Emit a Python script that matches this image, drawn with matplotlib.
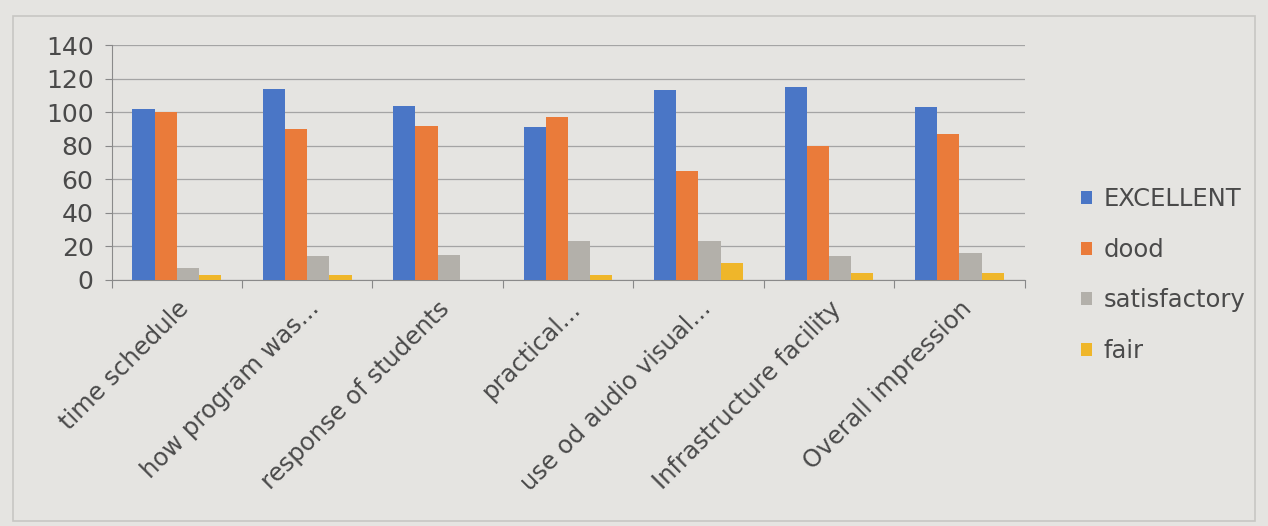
import matplotlib.pyplot as plt
import numpy as np

categorias = ['time schedule', 'how program was...', 'response of students',
              'practical...', 'use od audio visual...', 'Infrastructure facility',
              'Overall impression']
excellent = [102, 114, 104, 91, 113, 115, 103]
dood = [100, 90, 92, 97, 65, 80, 87]
satisfactory = [7, 14, 15, 23, 23, 14, 16]
fair = [3, 3, 0, 3, 10, 4, 4]

series = [('EXCELLENT', excellent, '#4a76c6'),
          ('dood', dood, '#ea7b3a'),
          ('satisfactory', satisfactory, '#b3b0aa'),
          ('fair', fair, '#efb62a')]

fundo = '#e5e4e1'
texto = '#4a4a4a'

fig = plt.figure(figsize=(12.68, 5.26), dpi=100, facecolor=fundo)
ax = fig.add_axes([0.088, 0.468, 0.72, 0.446], facecolor=fundo)

x = np.arange(len(categorias))
largura = 0.17
for i, (nome, valores, cor) in enumerate(series):
    ax.bar(x - 1.5 * largura + i * largura, valores, largura, color=cor,
           label=nome, zorder=3)

ax.set_xlim(-0.5, len(categorias) - 0.5)
ax.set_ylim(0, 140)
ax.set_yticks(range(0, 141, 20))
ax.yaxis.grid(True, color='#a4a4a4', lw=0.9, zorder=0)

# marcas do eixo x entre as categorias, como no Excel
ax.set_xticks(np.arange(-0.5, len(categorias), 1.0))
ax.set_xticklabels([])
ax.tick_params(axis='x', length=6, color='#888888', direction='out')
ax.set_xticks(x, minor=True)
ax.set_xticklabels(categorias, minor=True, rotation=45, ha='right',
                   rotation_mode='anchor', fontsize=17.5, color=texto)
ax.tick_params(axis='x', which='minor', length=0, pad=12)
ax.tick_params(axis='y', length=5, color='#888888', labelsize=18,
               labelcolor=texto, pad=8)

for lado in ['top', 'right']:
    ax.spines[lado].set_visible(False)
ax.spines['left'].set_color('#8a8a8a')
ax.spines['bottom'].set_color('#8a8a8a')

fig.legend(loc='center left', bbox_to_anchor=(0.835, 0.477), frameon=False,
           fontsize=17.5, labelcolor=texto, handlelength=0.45, handleheight=0.45,
           handletextpad=0.5, labelspacing=1.1)

# moldura do grafico na foto
fig.patches.append(plt.Rectangle((0.01, 0.01), 0.98, 0.96, transform=fig.transFigure,
                                 fill=False, edgecolor='#c8c7c3', lw=1.2))

fig.savefig('out.png', dpi=100, facecolor=fundo)
